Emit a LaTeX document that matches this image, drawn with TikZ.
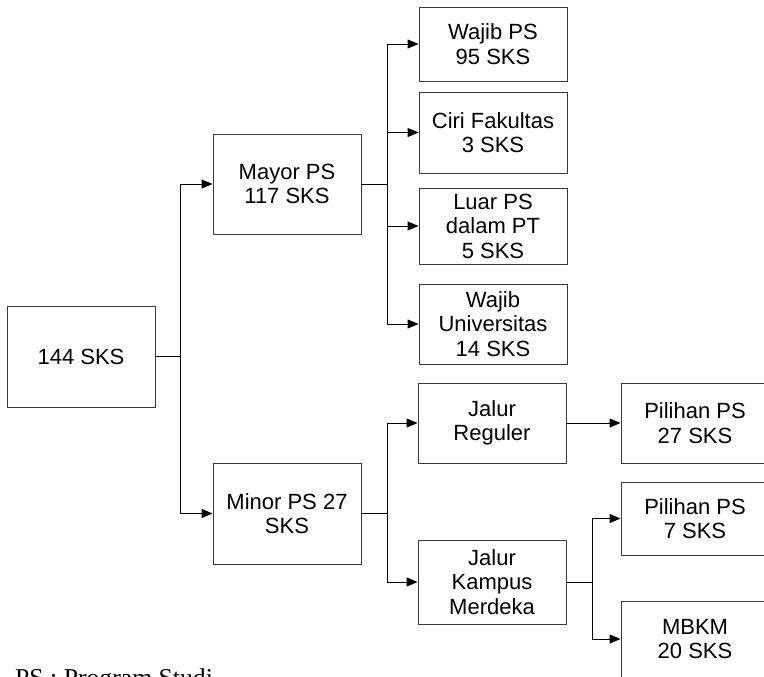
\documentclass[tikz,border=0pt]{standalone}
\usepackage{fontspec}
\setmainfont{Liberation Sans}
\newfontfamily\timesfont{Liberation Serif}
\usetikzlibrary{arrows.meta}
\definecolor{boxgray}{HTML}{3A3A3A}
\tikzset{
  box/.style={draw=boxgray, line width=0.9pt, inner sep=0pt, align=center,
    font=\fontsize{22}{24.5}\selectfont, minimum width=148pt},
  conn/.style={line width=0.9pt, draw=black},
  arr/.style={conn, -{Triangle[length=11pt,width=9pt]}}
}
\begin{document}
\begin{tikzpicture}[x=1pt,y=-1pt]
\useasboundingbox (0,0) rectangle (764,677);
\fill[white] (0,0) rectangle (764,677);
\clip (0,0) rectangle (764,677);
\node[box, minimum height=101pt] (root) at (81,356.5) {144 SKS};
\node[box, minimum height=100pt] (mayor) at (287,184) {Mayor PS\\117 SKS};
\node[box, minimum height=101pt] (minor) at (287,513.5) {Minor PS 27\\SKS};
\node[box, minimum height=74pt] (wajibps) at (493,44) {Wajib PS\\95 SKS};
\node[box, minimum height=81pt] (ciri) at (493,132.5) {Ciri Fakultas\\3 SKS};
\node[box, minimum height=76pt] (luar) at (493,226) {Luar PS\\dalam PT\\5 SKS};
\node[box, minimum height=80pt] (wajibu) at (493,324) {Wajib\\Universitas\\14 SKS};
\node[box, minimum height=80pt] (reguler) at (492,423) {Jalur\\Reguler};
\node[box, minimum height=84pt] (kampus) at (492,582) {Jalur\\Kampus\\Merdeka};
\node[box, minimum height=80pt] (pil27) at (695,423) {Pilihan PS\\27 SKS};
\node[box, minimum height=73pt] (pil7) at (695,518.5) {Pilihan PS\\7 SKS};
\node[box, minimum height=76pt] (mbkm) at (695,639) {MBKM\\20 SKS};
\node[anchor=base west, inner sep=0pt, font=\timesfont\fontsize{25.7}{28}\selectfont] (note) at (15,686) {PS : Program Studi};
% connectors
\coordinate (j0) at (180,356.5);
\draw[conn] (root.east) -- (j0);
\draw[arr] (j0) |- (mayor.west);
\draw[arr] (j0) |- (minor.west);
\coordinate (j1) at (387,184);
\draw[conn] (mayor.east) -- (j1);
\draw[arr] (j1) |- (wajibps.west);
\draw[arr] (j1) |- (ciri.west);
\draw[arr] (j1) |- (luar.west);
\draw[arr] (j1) |- (wajibu.west);
\coordinate (j2) at (387,513.5);
\draw[conn] (minor.east) -- (j2);
\draw[arr] (j2) |- (reguler.west);
\draw[arr] (j2) |- (kampus.west);
\draw[arr] (reguler.east) -- (pil27.west);
\coordinate (j3) at (592,582);
\draw[conn] (kampus.east) -- (j3);
\draw[arr] (j3) |- (pil7.west);
\draw[arr] (j3) |- (mbkm.west);
\end{tikzpicture}
\end{document}
